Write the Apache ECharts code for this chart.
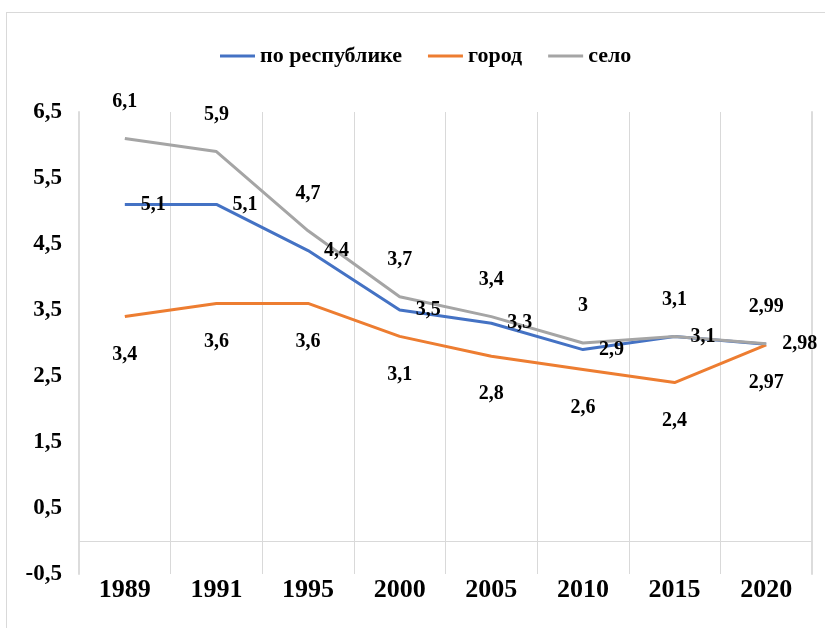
<!DOCTYPE html>
<html>
<head>
<meta charset="utf-8">
<script src="https://cdn.jsdelivr.net/npm/echarts@6/dist/echarts.min.js"></script>
<style>
  html, body { margin: 0; padding: 0; background: #fff; }
  #frame { position: absolute; left: 6px; top: 12px; width: 830px; height: 640px; border: 1px solid #d9d9d9; }
  #main { position: absolute; left: 0; top: 0; width: 825px; height: 628px; }
</style>
</head>
<body>
<div id="frame"></div>
<div id="main"></div>
<script>
// годы
var years = ['1989', '1991', '1995', '2000', '2005', '2010', '2015', '2020'];
// значения по сериям
var poRespublike = [5.1, 5.1, 4.4, 3.5, 3.3, 2.9, 3.1, 2.98];
var gorod = [3.4, 3.6, 3.6, 3.1, 2.8, 2.6, 2.4, 2.97];
var selo = [6.1, 5.9, 4.7, 3.7, 3.4, 3.0, 3.1, 2.99];

var FONT = '"Liberation Serif", "Times New Roman", serif';
var GRID_COLOR = '#d9d9d9';
// крайние линии рисуются размыто, поэтому толще
var EDGE_COLOR = '#dcdcdc';

function comma(v) {
  return String(v).replace('.', ',');
}

function labelOpt(pos, dist) {
  return {
    show: true,
    position: pos,
    distance: dist,
    color: '#000',
    fontFamily: FONT,
    fontWeight: 'bold',
    fontSize: 20,
    formatter: function (p) { return comma(p.value); }
  };
}

var myChart = echarts.init(document.getElementById('main'));

var option = {
  animation: false,
  backgroundColor: 'transparent',
  legend: {
    top: 40,
    left: 215,
    itemWidth: 35,
    itemHeight: 3,
    itemGap: 26,
    icon: 'rect',
    textStyle: { color: '#000', fontFamily: FONT, fontWeight: 'bold', fontSize: 22 },
    data: ['по республике', 'город', 'село']
  },
  grid: { left: 79, right: 13, top: 112, bottom: 54 },
  xAxis: {
    type: 'category',
    data: years,
    boundaryGap: true,
    axisLine: { show: false, onZero: false },
    axisTick: { show: false },
    splitLine: { show: true, lineStyle: { color: GRID_COLOR, width: 1 } },
    axisLabel: { margin: 3, color: '#000', fontFamily: FONT, fontWeight: 'bold', fontSize: 26 }
  },
  yAxis: [
    {
      type: 'value',
      min: -0.5,
      max: 6.5,
      interval: 1,
      axisLine: { show: true, onZero: false, lineStyle: { color: EDGE_COLOR, width: 2 } },
      axisTick: { show: false },
      splitLine: { show: false },
      axisLabel: {
        margin: 17,
        color: '#000',
        fontFamily: FONT,
        fontWeight: 'bold',
        fontSize: 23,
        formatter: function (v) { return comma(Math.round(v * 10) / 10); }
      }
    },
    {
      // правая граница области построения
      type: 'value',
      position: 'right',
      min: -0.5,
      max: 6.5,
      interval: 1,
      axisLine: { show: true, onZero: false, lineStyle: { color: EDGE_COLOR, width: 2 } },
      axisTick: { show: false },
      splitLine: { show: false },
      axisLabel: { show: false }
    }
  ],
  series: [
    {
      name: 'по республике',
      type: 'line',
      data: poRespublike,
      symbol: 'circle',
      symbolSize: 0,
      showSymbol: true,
      color: '#4472c4',
      lineStyle: { width: 3, color: '#4472c4' },
      label: labelOpt('right', 16),
      markLine: {
        silent: true,
        symbol: 'none',
        label: { show: false },
        lineStyle: { color: GRID_COLOR, width: 1, type: 'solid' },
        data: [{ yAxis: 0 }]
      }
    },
    {
      name: 'город',
      type: 'line',
      data: gorod,
      symbol: 'circle',
      symbolSize: 0,
      showSymbol: true,
      color: '#ed7d31',
      lineStyle: { width: 3, color: '#ed7d31' },
      label: labelOpt('bottom', 28)
    },
    {
      name: 'село',
      type: 'line',
      data: selo,
      symbol: 'circle',
      symbolSize: 0,
      showSymbol: true,
      color: '#a5a5a5',
      lineStyle: { width: 3, color: '#a5a5a5' },
      label: labelOpt('top', 27)
    }
  ]
};

myChart.setOption(option);
window.addEventListener('resize', function () { myChart.resize(); });
</script>
</body>
</html>
